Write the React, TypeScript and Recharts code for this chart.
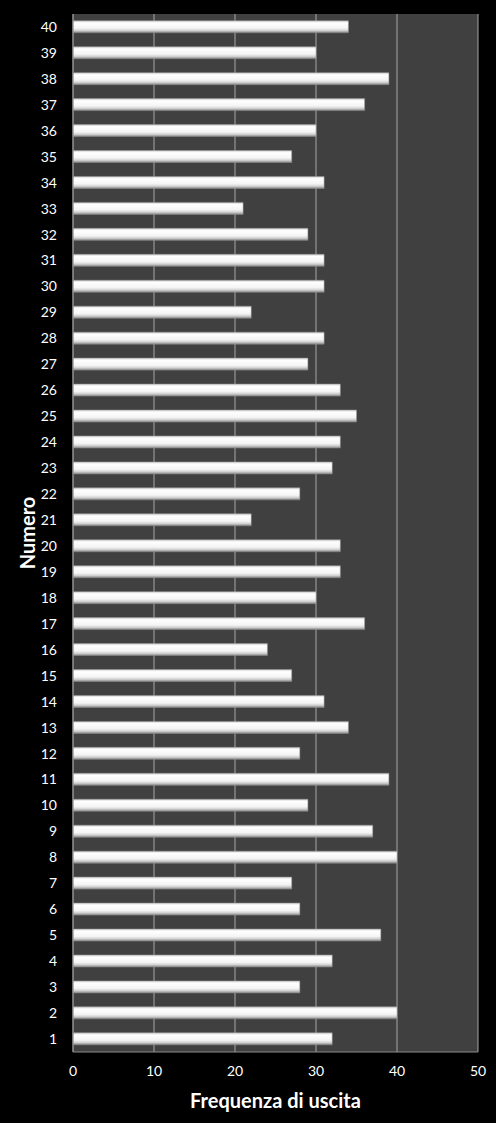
import { Bar, BarChart, CartesianGrid, Label, XAxis, YAxis } from 'recharts';

const numbers = Array.from({ length: 40 }, (_, i) => String(i + 1));
// frequency of each number, 1..40
const frequencies = [
  32, 40, 28, 32, 38, 28, 27, 40, 37, 29,
  39, 28, 34, 31, 27, 24, 36, 30, 33, 33,
  22, 28, 32, 33, 35, 33, 29, 31, 22, 31,
  31, 29, 21, 31, 27, 30, 36, 39, 30, 34,
];
const xTicks = [0, 10, 20, 30, 40, 50];

const data = numbers.map((n, i) => ({ numero: n, freq: frequencies[i] }));

const font = 'Lato, "Open Sans", sans-serif';

const YTitle = (props: any) => {
  const vb = props.viewBox || {};
  const cx = 27;
  const cy = (vb.y ?? 14) + (vb.height ?? 1038) / 2;
  return (
    <text
      x={cx}
      y={cy}
      transform={`rotate(-90 ${cx} ${cy})`}
      textAnchor="middle"
      dominantBaseline="central"
      fill="#ffffff"
      fontSize={20}
      fontWeight="bold"
      fontFamily={font}
    >
      Numero
    </text>
  );
};

export default function App() {
  return (
    <div style={{ position: 'absolute', left: 0, top: 0, width: 496, height: 1123, background: '#000' }}>
      <BarChart
        width={496}
        height={1123}
        data={data}
        layout="vertical"
        barCategoryGap="26%"
        margin={{ top: 14, right: 18, bottom: 0, left: 0 }}
      >
        <defs>
          <linearGradient id="barFill" x1="0" y1="0" x2="0" y2="1">
            <stop offset="0%" stopColor="#cfcfcf" />
            <stop offset="18%" stopColor="#ffffff" />
            <stop offset="62%" stopColor="#f4f4f4" />
            <stop offset="82%" stopColor="#d0d0d0" />
            <stop offset="100%" stopColor="#858585" />
          </linearGradient>
        </defs>
        <CartesianGrid fill="#404040" horizontal={false} stroke="#a6a6a6" strokeWidth={1} />
        <XAxis
          type="number"
          domain={[0, 50]}
          ticks={xTicks}
          interval={0}
          height={71}
          tickLine={false}
          tickSize={0}
          tickMargin={14}
          axisLine={{ stroke: '#8a8a8a' }}
          tick={{ fill: '#ffffff', fontSize: 14, fontFamily: font }}
          label={{
            value: 'Frequenza di uscita',
            position: 'insideBottom',
            offset: 15,
            fill: '#ffffff',
            fontSize: 20,
            fontWeight: 'bold',
            fontFamily: font,
          }}
        />
        <YAxis
          type="category"
          dataKey="numero"
          reversed
          width={73}
          interval={0}
          tickLine={false}
          tickSize={0}
          tickMargin={16}
          axisLine={{ stroke: '#8a8a8a' }}
          tick={{ fill: '#ffffff', fontSize: 14, fontFamily: font }}
        >
          <Label content={YTitle} />
        </YAxis>
        <Bar dataKey="freq" fill="url(#barFill)" stroke="#9a9a9a" strokeWidth={0.5} isAnimationActive={false} />
      </BarChart>
    </div>
  );
}
